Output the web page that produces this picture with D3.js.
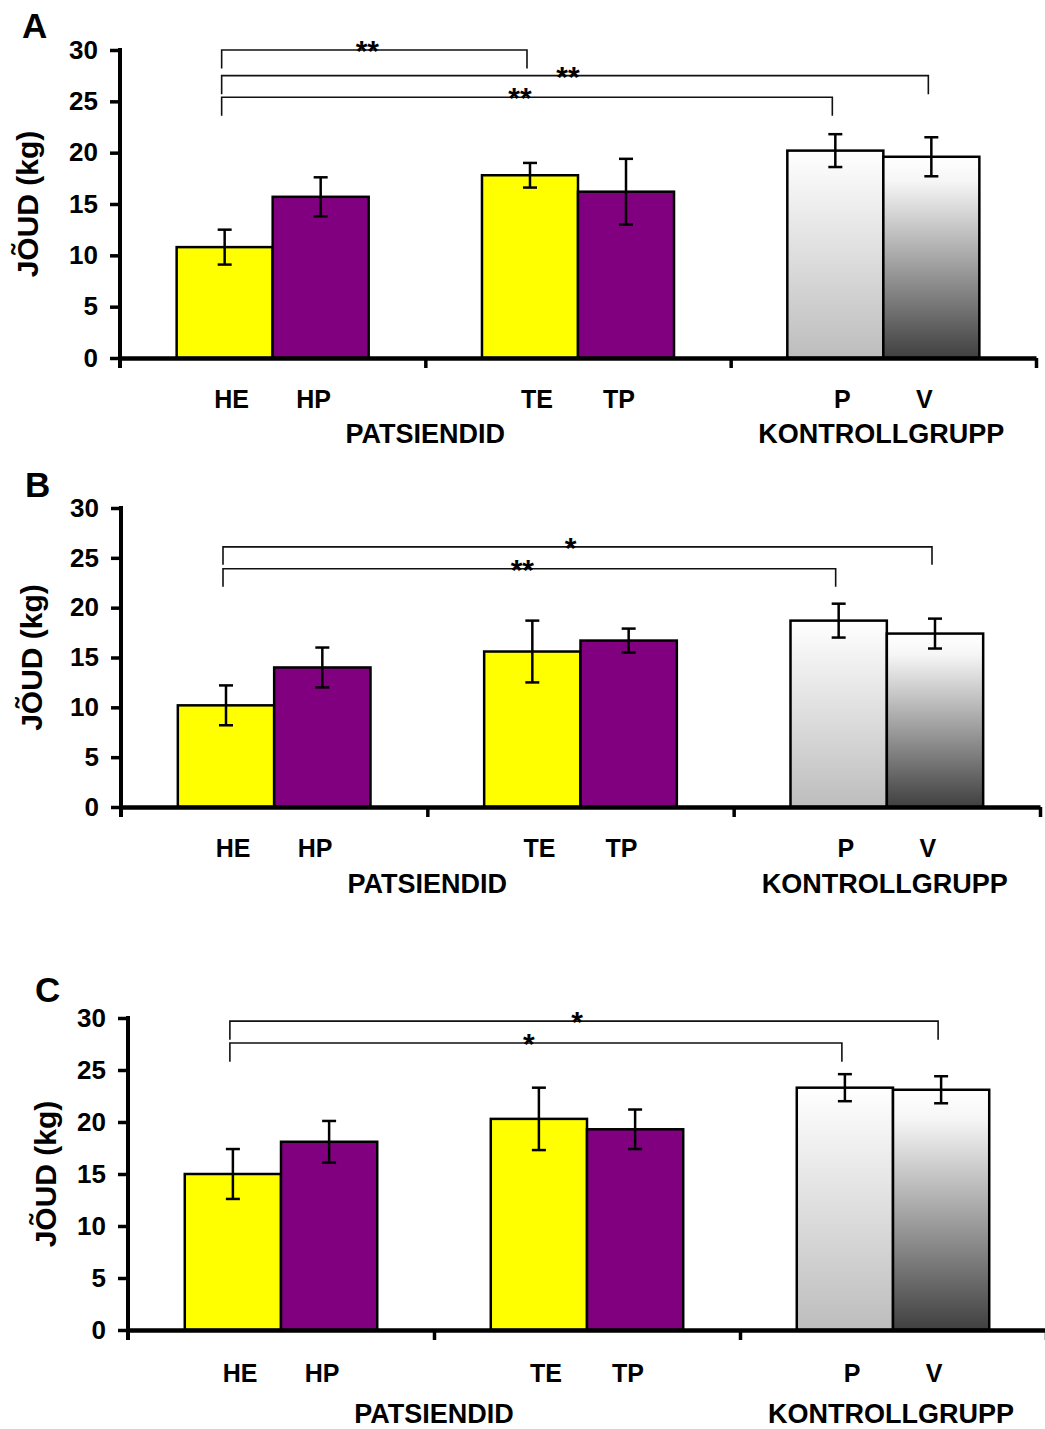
<!DOCTYPE html>
<html><head><meta charset="utf-8">
<script src="https://cdn.jsdelivr.net/npm/d3@7"></script>
<style>
body{margin:0;background:#fff}
svg{display:block}
text{font-family:"Liberation Sans",Arial,Helvetica,sans-serif;font-weight:bold;fill:#000}
</style>
</head><body>
<svg id="chart" width="1045" height="1429"></svg>
<script>
// ---------- data ----------
const categories = ["HE","HP","TE","TP","P","V"];
const catGroup   = ["g1","g1","g2","g2","g3","g3"];
const catSub     = ["a","b","a","b","a","b"];
const groupKeys  = ["g1","g2","g3"];
const groupLabels = ["PATSIENDID","KONTROLLGRUPP"];
const yTicks = [0,5,10,15,20,25,30];
const panelLetters = ["A","B","C"];
const yTitle = "JÕUD (kg)";

const valuesA = [10.8, 15.7, 17.8, 16.2, 20.2, 19.6];
const errorsA = [1.7, 1.9, 1.2, 3.2, 1.6, 1.9];
const valuesB = [10.2, 14.0, 15.6, 16.7, 18.7, 17.4];
const errorsB = [2.0, 2.0, 3.1, 1.2, 1.7, 1.5];
const valuesC = [15.0, 18.1, 20.3, 19.3, 23.3, 23.1];
const errorsC = [2.4, 2.0, 3.0, 1.9, 1.3, 1.3];

const sigFromA = ["HE","HE","HE"], sigToA = ["TE","V","P"], sigLevelA = [30, 27.5, 25.4], sigLabelA = ["**","**","**"];
const sigFromB = ["HE","HE"], sigToB = ["V","P"], sigLevelB = [26.1, 23.9], sigLabelB = ["*","**"];
const sigFromC = ["HE","HE"], sigToC = ["V","P"], sigLevelC = [29.7, 27.6], sigLabelC = ["*","*"];

// ---------- layout & style ----------
const layouts = [
  {left:120, right:1036, top:50,  bottom:358,  catY:408,  grpY:443,  letterX:22, letterY:38,   titleX:38},
  {left:121, right:1040, top:508, bottom:807,  catY:857,  grpY:893,  letterX:25, letterY:497,  titleX:42},
  {left:128, right:1046, top:1018,bottom:1330, catY:1382, grpY:1423, letterX:35, letterY:1002, titleX:56}
];
const fills = ["#ffff00","#800080","#ffff00","#800080","url(#gradP)","url(#gradV)"];

const svg = d3.select("#chart");
const defs = svg.append("defs");
function grad(id, stops){
  const g = defs.append("linearGradient").attr("id",id).attr("x1",0).attr("y1",0).attr("x2",0).attr("y2",1);
  stops.forEach(s=>g.append("stop").attr("offset",s[0]).attr("stop-color",s[1]));
}
grad("gradP", [[0,"#ffffff"],[1,"#bdbdbd"]]);
grad("gradV", [[0,"#ffffff"],[0.12,"#f6f6f6"],[1,"#404040"]]);

const panels = [
  {values:valuesA, errors:errorsA, from:sigFromA, to:sigToA, level:sigLevelA, label:sigLabelA},
  {values:valuesB, errors:errorsB, from:sigFromB, to:sigToB, level:sigLevelB, label:sigLabelB},
  {values:valuesC, errors:errorsC, from:sigFromC, to:sigToC, level:sigLevelC, label:sigLabelC}
];

panels.forEach((p, pi) => {
  const L = layouts[pi];
  const g = svg.append("g");
  const y = d3.scaleLinear().domain([0,30]).range([L.bottom, L.top]);
  const x0 = d3.scaleBand().domain(groupKeys).range([L.left, L.right]).padding(0);
  const x1 = d3.scaleBand().domain(["a","b"]).range([0, x0.bandwidth()]).paddingInner(0).paddingOuter(0.59);
  const bx = i => x0(catGroup[i]) + x1(catSub[i]);
  const bc = i => bx(i) + x1.bandwidth()/2;
  const idx = c => categories.indexOf(c);

  // bars
  g.selectAll("rect.bar").data(p.values).join("rect")
    .attr("class","bar")
    .attr("x",(d,i)=>bx(i)).attr("width",x1.bandwidth())
    .attr("y",d=>y(d)).attr("height",d=>y(0)-y(d))
    .attr("fill",(d,i)=>fills[i]).attr("stroke","#000").attr("stroke-width",2.5);

  // error bars
  const eb = g.selectAll("g.err").data(p.values).join("g").attr("class","err")
    .attr("stroke","#000").attr("stroke-width",2.5);
  eb.append("line").attr("x1",(d,i)=>bc(i)).attr("x2",(d,i)=>bc(i))
    .attr("y1",(d,i)=>y(d+p.errors[i])).attr("y2",(d,i)=>y(d-p.errors[i]));
  eb.append("line").attr("x1",(d,i)=>bc(i)-7).attr("x2",(d,i)=>bc(i)+7)
    .attr("y1",(d,i)=>y(d+p.errors[i])).attr("y2",(d,i)=>y(d+p.errors[i]));
  eb.append("line").attr("x1",(d,i)=>bc(i)-7).attr("x2",(d,i)=>bc(i)+7)
    .attr("y1",(d,i)=>y(d-p.errors[i])).attr("y2",(d,i)=>y(d-p.errors[i]));

  // y axis
  const ya = g.append("g").attr("transform",`translate(${L.left},0)`)
    .call(d3.axisLeft(y).tickValues(yTicks).tickSize(10).tickSizeOuter(0).tickPadding(12));
  ya.select(".domain").attr("stroke","#000").attr("stroke-width",4).attr("d",`M0,${L.top-2}V${L.bottom+10}`);
  ya.selectAll(".tick line").attr("stroke","#000").attr("stroke-width",3.5);
  ya.selectAll(".tick text").style("font-size","26px").style("font-family","'Liberation Sans',Arial,sans-serif").style("font-weight","bold").attr("fill","#000");

  // x axis (group boundaries)
  const xb = d3.scaleLinear().domain([0,3]).range([L.left, L.right]);
  const xa = g.append("g").attr("transform",`translate(0,${L.bottom})`)
    .call(d3.axisBottom(xb).tickValues([1,2,3]).tickSize(10).tickSizeOuter(0).tickFormat(""));
  xa.select(".domain").attr("stroke","#000").attr("stroke-width",4.5);
  xa.selectAll(".tick line").attr("stroke","#000").attr("stroke-width",3.5);

  // category labels
  g.selectAll("text.cat").data(categories).join("text").attr("class","cat")
    .attr("x",(d,i)=>x0(catGroup[i]) + x0.bandwidth()/2 + (catSub[i]==="a"?-41:41))
    .attr("y",L.catY).attr("text-anchor","middle").style("font-size","25px").text(d=>d);

  // group labels
  const c1 = (x0("g1")+x0("g2")+x0.bandwidth())/2;
  const c3 = x0("g3")+x0.bandwidth()/2 - 2;
  g.append("text").attr("x",c1).attr("y",L.grpY).attr("text-anchor","middle").style("font-size","27px").text(groupLabels[0]);
  g.append("text").attr("x",c3).attr("y",L.grpY).attr("text-anchor","middle").style("font-size","27px").text(groupLabels[1]);

  // y title
  g.append("text").attr("transform",`translate(${L.titleX},${(L.top+L.bottom)/2}) rotate(-90)`)
    .attr("text-anchor","middle").style("font-size","30px").text(yTitle);

  // panel letter
  g.append("text").attr("x",L.letterX).attr("y",L.letterY).style("font-size","35px").text(panelLetters[pi]);

  // significance brackets
  const drop = 1.8;
  p.from.forEach((f,k)=>{
    const xa1 = bc(idx(f)) - 3, xa2 = bc(idx(p.to[k])) - 3;
    const ly = y(p.level[k]), ld = y(p.level[k]-drop);
    g.append("path").attr("d",`M${xa1},${ld}V${ly}H${xa2}V${ld}`)
      .attr("fill","none").attr("stroke","#111").attr("stroke-width",1.6);
    g.append("text").attr("x",(xa1+xa2)/2 - 7).attr("y",ly+11).attr("text-anchor","middle")
      .style("font-size","30px").text(p.label[k]);
  });
});
</script>
</body></html>
